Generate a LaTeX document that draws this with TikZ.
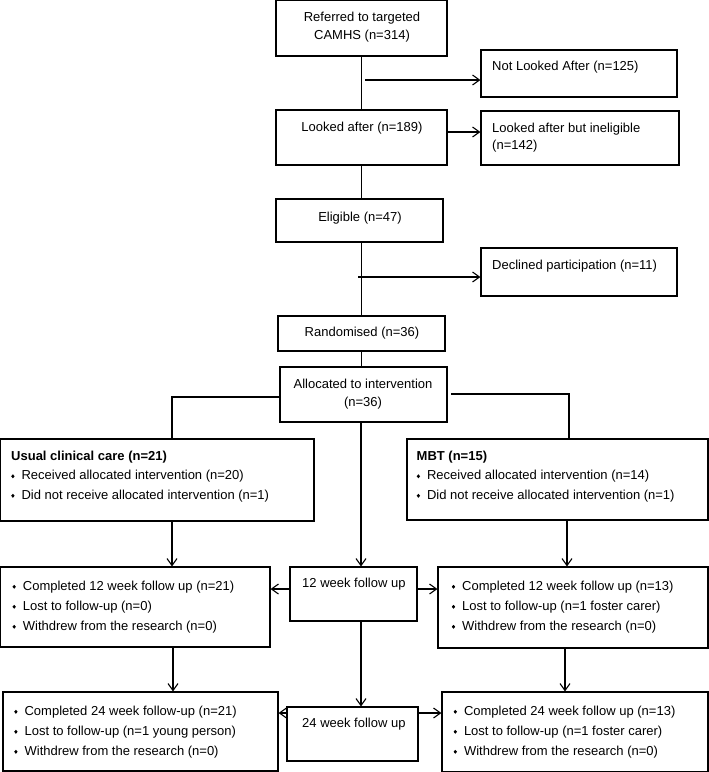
\documentclass[tikz,border=0pt]{standalone}
\usepackage{fontspec}
\setmainfont{Liberation Sans}
\usetikzlibrary{arrows.meta}
\newcommand\dbul{\tikz[baseline={(0,-3.6pt)}]\fill (0,2pt)--(1.7pt,0)--(0,-2pt)--(-1.7pt,0)--cycle;\hspace{7pt}}
\newcommand\bx[5]{\node[boxnode, minimum width={(#4-#2)*1pt}, minimum height={(#5-#3)*1pt}] (#1) at ({(#2+#4)/2},{(#3+#5)/2}) {};}
\begin{document}
\begin{tikzpicture}[x=1pt,y=-1pt,
  boxnode/.style={draw, line width=1.1pt, inner sep=0pt, fill=white},
  txt/.style={inner sep=0pt, font=\fontsize{13}{17.5}\selectfont},
  blist/.style={inner sep=0pt, align=left, anchor=west, font=\fontsize{13}{20}\selectfont},
  line/.style={line width=1.1pt},
  arr/.style={line width=1.1pt, -{Straight Barb[length=7pt,width=10pt,line width=1.1pt]}}]
\useasboundingbox[fill=white] (0,0) rectangle (709,772);
% boxes
\bx{ref}{276}{0.6}{447}{56}
\bx{nla}{481}{50}{677}{97}
\bx{la}{276}{110}{447}{165}
\bx{lai}{481}{111}{679}{165}
\bx{elig}{276}{199}{443}{242}
\bx{decl}{481}{248}{677}{296}
\bx{rand}{278}{316}{445}{351}
\bx{alloc}{280}{367}{447}{422}
\bx{ucc}{0.6}{439}{314}{521}
\bx{mbt}{407}{439}{708}{520}
\bx{f12}{290}{567}{417}{621}
\bx{l12}{0.6}{567}{270}{647}
\bx{r12}{438}{567}{708}{648}
\bx{f24}{287}{707}{418}{761}
\bx{l24}{3}{692}{278}{771}
\bx{r24}{442}{692}{708}{771.4}
% texts
\node[txt, align=center] (tref) at (362,27) {Referred to targeted\\CAMHS (n=314)};
\node[txt, anchor=west] (tnla) at (492,67) {Not Looked After (n=125)};
\node[txt] (tla) at (362,128) {Looked after (n=189)};
\node[txt, anchor=west, align=left] (tlai) at (492,137.5) {Looked after but ineligible\\(n=142)};
\node[txt] (telig) at (360,218) {Eligible (n=47)};
\node[txt, anchor=west] (tdecl) at (492,266) {Declined participation (n=11)};
\node[txt] (trand) at (362,333) {Randomised (n=36)};
\node[txt, align=center] (talloc) at (363,394) {Allocated to intervention\\(n=36)};
\node[blist, font=\fontsize{13}{19.5}\selectfont] (tucc) at (11,476.5) {\textbf{Usual clinical care (n=21)}\\\dbul Received allocated intervention (n=20)\\\dbul Did not receive allocated intervention (n=1)};
\node[blist, font=\fontsize{13}{19.5}\selectfont] (tmbt) at (416.5,476.5) {\textbf{MBT (n=15)}\\\dbul Received allocated intervention (n=14)\\\dbul Did not receive allocated intervention (n=1)};
\node[txt, anchor=west] (tf12) at (302,584) {12 week follow up};
\node[txt, anchor=west] (tf24) at (302,724) {24 week follow up};
\node[blist] (tl12) at (12.3,607) {\dbul Completed 12 week follow up (n=21)\\\dbul Lost to follow-up (n=0)\\\dbul Withdrew from the research (n=0)};
\node[blist] (tr12) at (451.6,607) {\dbul Completed 12 week follow up (n=13)\\\dbul Lost to follow-up (n=1 foster carer)\\\dbul Withdrew from the research (n=0)};
\node[blist] (tl24) at (14,732) {\dbul Completed 24 week follow-up (n=21)\\\dbul Lost to follow-up (n=1 young person)\\\dbul Withdrew from the research (n=0)};
\node[blist] (tr24) at (453.4,732) {\dbul Completed 24 week follow up (n=13)\\\dbul Lost to follow-up (n=1 foster carer)\\\dbul Withdrew from the research (n=0)};
% connectors
\coordinate (c1) at (365,80);
\coordinate (c2) at (447,132);
\coordinate (c3) at (358,277);
\coordinate (bl) at (172,397);
\coordinate (br0) at (451,394);
\coordinate (br) at (569,394);
\coordinate (mx) at (361,0);
\coordinate (lx) at (173,0);
\coordinate (rx) at (565,0);
\coordinate (y589) at (0,589);
\coordinate (y713) at (0,713);
\draw[line] (ref.south) -- (la.north);
\draw[arr] (c1) -- (c1 -| nla.west);
\draw[arr] (c2) -- (c2 -| lai.west);
\draw[line] (la.south) -- (la.south |- elig.north);
\draw[line] (la.south |- elig.south) -- (la.south |- rand.north);
\draw[arr] (c3) -- (c3 -| decl.west);
\draw[line] (rand.south) -- (rand.south |- alloc.north);
\draw[line] (alloc.west |- bl) -- (bl) -- (bl |- ucc.north);
\draw[line] (br0) -- (br) -- (br |- mbt.north);
\draw[arr] (bl |- ucc.south) -- (bl |- l12.north);
\draw[arr] (br |- mbt.south) ++(-2,0) -- ([xshift=-2pt]br |- r12.north);
\draw[arr] (mx |- alloc.south) -- (mx |- f12.north);
\draw[arr] (mx |- f12.south) -- (mx |- f24.north);
\draw[arr] (f12.west |- y589) -- (l12.east |- y589);
\draw[arr] (f12.east |- y589) -- (r12.west |- y589);
\draw[arr] (f24.west |- y713) -- (l24.east |- y713);
\draw[arr] (f24.east |- y713) -- (r24.west |- y713);
\draw[arr] (lx |- l12.south) -- (lx |- l24.north);
\draw[arr] (rx |- r12.south) -- (rx |- r24.north);
\end{tikzpicture}
\end{document}
